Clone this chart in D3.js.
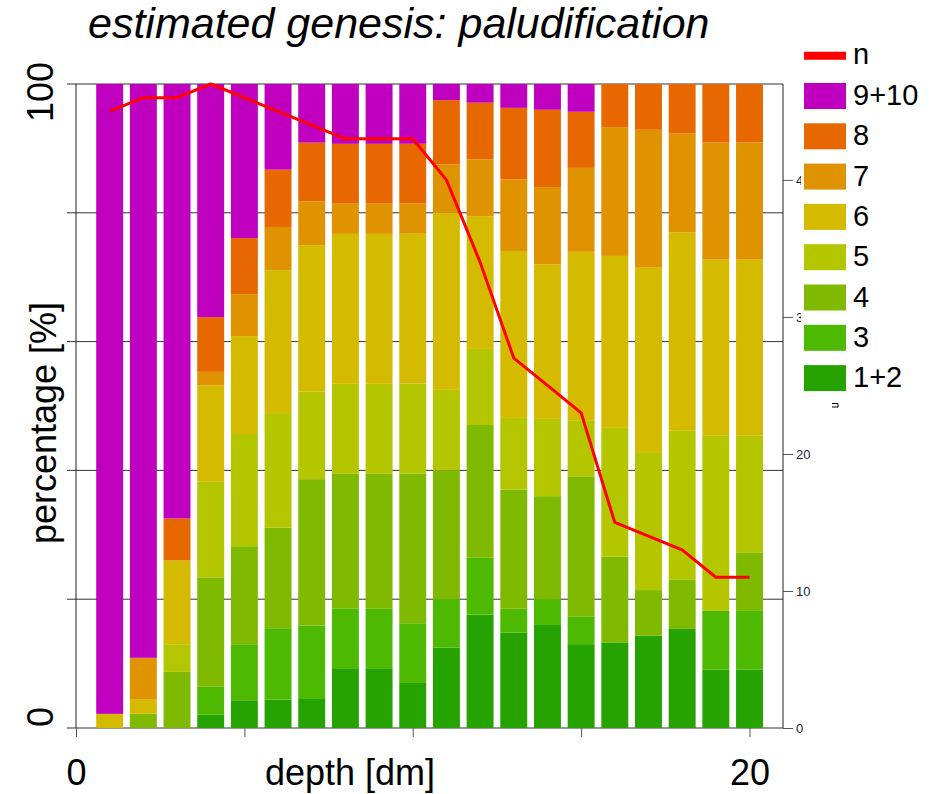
<!DOCTYPE html>
<html>
<head>
<meta charset="utf-8">
<script src="https://cdn.jsdelivr.net/npm/d3@7"></script>
<style>
  html, body { margin: 0; padding: 0; background: #fff; }
  svg { display: block; font-family: "Liberation Sans", Arial, sans-serif; }
</style>
</head>
<body>
<svg id="chart" width="933" height="794"></svg>
<script>
// ---------- data ----------
const depth = [1,2,3,4,5,6,7,8,9,10,11,12,13,14,15,16,17,18,19,20];
const keys = ["1+2","3","4","5","6","7","8","9+10"];            // bottom -> top
const legendKeys = ["9+10","8","7","6","5","4","3","1+2"];      // legend order
const colors = {"1+2":"#26a300","3":"#4db900","4":"#7fba00","5":"#b4c600",
                "6":"#d5bb00","7":"#df9300","8":"#e86800","9+10":"#bf00bf"};

// percentages per class and depth
const p12  = [0,0,0,2.1,4.3,4.4,4.5,9.3,9.3,7.0,12.5,17.6,14.8,16.0,13.0,13.3,14.3,15.4,9.1,9.1];
const p3   = [0,0,0,4.3,8.7,11.1,11.4,9.3,9.3,9.3,7.5,8.8,3.7,4.0,4.3,0,0,0,9.1,9.1];
const p4   = [0,2.2,8.7,17.0,15.2,15.6,22.7,20.9,20.9,23.3,20.0,20.6,18.5,16.0,21.7,13.3,7.1,7.7,0,9.1];
const p5   = [0,0,4.3,14.9,17.4,17.8,13.6,14.0,14.0,14.0,12.5,11.8,11.1,12.0,8.7,20.0,21.4,23.1,27.3,18.2];
const p6   = [2.2,2.2,13.0,14.9,15.2,22.2,22.7,23.3,23.3,23.3,27.5,20.6,25.9,24.0,26.1,26.7,28.6,30.8,27.3,27.3];
const p7   = [0,6.5,0,2.1,6.5,6.7,6.8,4.7,4.7,4.7,7.5,8.8,11.1,12.0,13.0,20.0,21.4,15.4,18.2,18.2];
const p8   = [0,0,6.5,8.5,8.7,8.9,9.1,9.3,9.3,9.3,10.0,8.8,11.1,12.0,8.7,6.7,7.1,7.7,9.1,9.1];
const p910 = [97.8,89.1,67.4,36.2,23.9,13.3,9.1,9.3,9.3,9.3,2.5,2.9,3.7,4.0,4.3,0,0,0,0,0];

// number of observations
const nObs = [45,46,46,47,46,45,44,43,43,43,40,34,27,25,23,15,14,13,11,11];

const leftTicks = [0,20,40,60,80,100];
const leftLabels = ["0","100"];
const rightTicks = [0,10,20,30,40];
const bottomTicks = [0,5,10,15,20];
const bottomLabels = [0,20];

// ---------- build table ----------
const series = {"1+2":p12,"3":p3,"4":p4,"5":p5,"6":p6,"7":p7,"8":p8,"9+10":p910};
const rows = depth.map((d,i) => {
  const r = {depth: d};
  keys.forEach(k => r[k] = series[k][i]);
  return r;
});
const stacked = d3.stack().keys(keys).offset(d3.stackOffsetExpand)(rows);

// ---------- scales ----------
const svg = d3.select("#chart");
const x = d3.scaleLinear().domain([0,20]).range([76,749.5]);
const yL = d3.scaleLinear().domain([0,100]).range([728,84]);
const yF = d3.scaleLinear().domain([0,1]).range([728,84]);
const yR = d3.scaleLinear().domain([0,47]).range([728,84]);
const RIGHT = 783;

// ---------- gridlines (behind bars) ----------
svg.append("g").selectAll("line").data(leftTicks).join("line")
  .attr("x1", 67).attr("x2", RIGHT)
  .attr("y1", d => yL(d)).attr("y2", d => yL(d))
  .attr("stroke", "#333").attr("stroke-width", 1);

// ---------- bars ----------
const bw = 0.4;
svg.append("g").selectAll("g").data(stacked).join("g")
  .attr("fill", s => colors[s.key])
  .selectAll("rect").data(s => s).join("rect")
  .attr("x", d => x(d.data.depth - bw))
  .attr("width", d => x(d.data.depth + bw) - x(d.data.depth - bw))
  .attr("y", d => yF(d[1]))
  .attr("height", d => Math.max(0, yF(d[0]) - yF(d[1])));

// ---------- left axis ----------
const gl = svg.append("g").attr("transform", "translate(76,0)")
  .call(d3.axisLeft(yL).tickValues(leftTicks).tickSize(0).tickFormat(""));
gl.select(".domain").attr("stroke", "#222").attr("d", `M0,${yL(100)}V${yL(0)}`);

svg.append("text").attr("transform", `translate(53,${yL(100)+8}) rotate(-90)`)
  .attr("text-anchor", "middle").attr("font-size", 36).attr("fill", "#000").text(leftLabels[1]);
svg.append("text").attr("transform", `translate(53,${yL(0)-11}) rotate(-90)`)
  .attr("text-anchor", "middle").attr("font-size", 36).attr("fill", "#000").text(leftLabels[0]);
svg.append("text").attr("transform", "translate(56,423) rotate(-90)")
  .attr("text-anchor", "middle").attr("font-size", 36).attr("fill", "#000").text("percentage [%]");

// ---------- bottom axis ----------
const gb = svg.append("g").attr("transform", "translate(0,728)")
  .call(d3.axisBottom(x).tickValues(bottomTicks).tickSize(9)
    .tickFormat(d => bottomLabels.includes(d) ? d : ""));
gb.select(".domain").remove();
gb.selectAll(".tick line").attr("stroke", "#555");
gb.selectAll(".tick text").attr("font-size", 36).attr("font-family", "Liberation Sans, Arial, sans-serif")
  .attr("fill", "#000").attr("dy", null).attr("y", 57);
svg.append("text").attr("x", 350).attr("y", 785).attr("text-anchor", "middle")
  .attr("font-size", 36).attr("fill", "#000").text("depth [dm]");

// ---------- right axis ----------
const gr = svg.append("g").attr("transform", `translate(${RIGHT},0)`)
  .call(d3.axisRight(yR).tickValues(rightTicks).tickSize(10).tickPadding(3));
gr.select(".domain").attr("stroke", "#222").attr("d", `M0,84V728`);
gr.selectAll(".tick line").attr("stroke", "#555");
gr.selectAll(".tick text").attr("font-size", 13).attr("fill", "#223")
  .attr("font-family", "Liberation Sans, Arial, sans-serif");

// ---------- n line ----------
svg.append("path").datum(depth.map((d,i) => [d, nObs[i]]))
  .attr("fill", "none").attr("stroke", "#ff0000").attr("stroke-width", 3)
  .attr("stroke-linejoin", "round")
  .attr("d", d3.line().x(d => x(d[0])).y(d => yR(d[1])));

// ---------- title ----------
svg.append("text").attr("x", 88).attr("y", 38).attr("font-size", 43)
  .attr("font-style", "italic").attr("fill", "#000").text("estimated genesis: paludification");

// ---------- legend ----------
const lg = svg.append("g");
lg.append("rect").attr("x", 801).attr("y", 32).attr("width", 132).attr("height", 368).attr("fill", "#fff");
const ly = i => 55.7 + i * 40.3;
lg.append("line").attr("x1", 804).attr("x2", 846).attr("y1", ly(0)).attr("y2", ly(0))
  .attr("stroke", "#ff0000").attr("stroke-width", 8);
lg.append("text").attr("x", 853).attr("y", ly(0) + 8).attr("font-size", 29).attr("fill", "#000").text("n");
legendKeys.forEach((k, j) => {
  const cy = ly(j + 1);
  lg.append("rect").attr("x", 804).attr("y", cy - 13).attr("width", 42).attr("height", 26).attr("fill", colors[k]);
  lg.append("text").attr("x", 853).attr("y", cy + 9).attr("font-size", 29).attr("fill", "#000").text(k);
});
// tiny mark below the legend
lg.append("path").attr("d", "M832,403.5H838V407H832").attr("fill", "none").attr("stroke", "#000").attr("stroke-width", 1);
</script>
</body>
</html>
